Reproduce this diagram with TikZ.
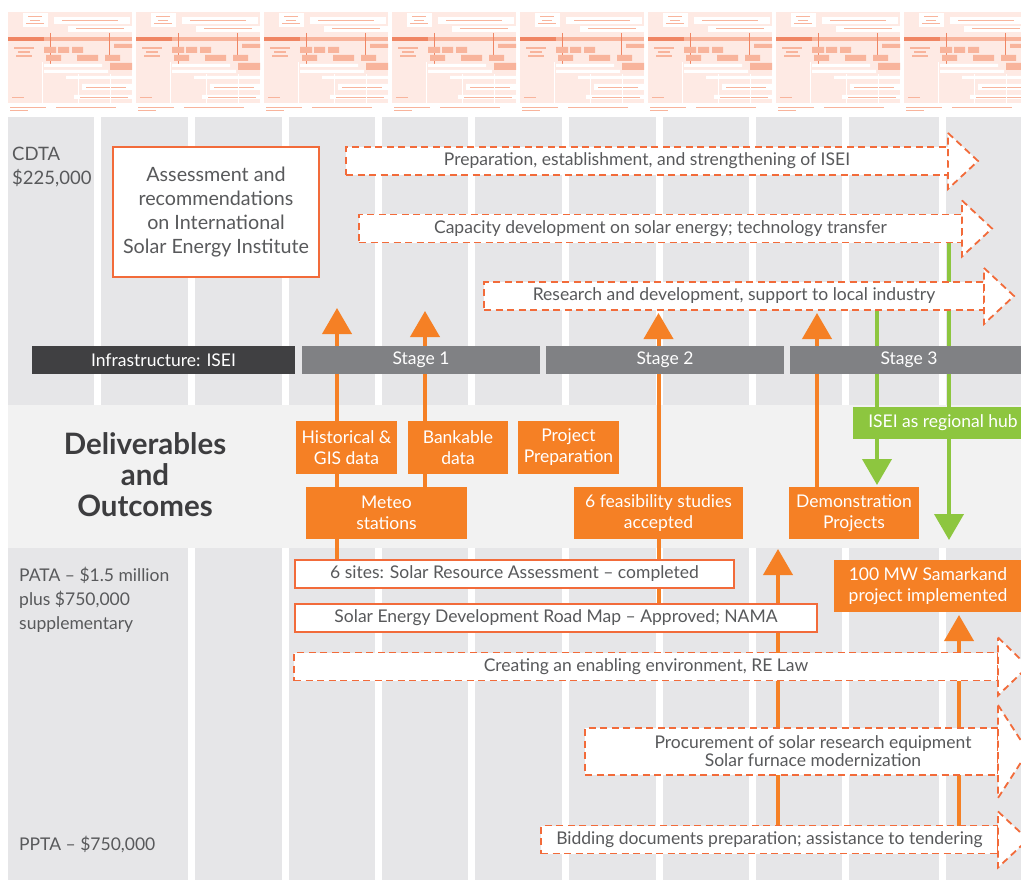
\documentclass[tikz,border=0pt]{standalone}
\usepackage{fontspec}
\setmainfont{Lato}
\usepackage{xcolor}
\usetikzlibrary{arrows.meta, positioning, calc}

\definecolor{orangefill}{HTML}{F58025}
\definecolor{orangeline}{HTML}{F26B3A}
\definecolor{textgray}{HTML}{58595B}
\definecolor{headgray}{HTML}{3D3D3F}
\definecolor{darkbar}{HTML}{404042}
\definecolor{stagegray}{HTML}{808184}
\definecolor{colgray}{HTML}{E6E6E8}
\definecolor{rowgray}{HTML}{F2F2F2}
\definecolor{hubgreen}{HTML}{8DC63F}
\definecolor{thumbpink}{HTML}{FEEAE4}
\definecolor{thumborange}{HTML}{F8B49C}
\definecolor{thumbred}{HTML}{F08664}

\pgfdeclarelayer{bg}
\pgfdeclarelayer{lines}
\pgfsetlayers{bg,lines,main}

\begin{document}
\begin{tikzpicture}[
    x=1pt, y=-1pt,
    text=textgray,
    font=\fontsize{17.5}{20}\selectfont,
    dashbox/.style={rectangle, draw=orangeline, fill=white, line width=1.8pt, dash pattern=on 7pt off 4.5pt, minimum height=28pt, inner sep=0pt, outer sep=0pt, anchor=west},
    dashhead/.style={draw=orangeline, fill=white, line width=1.8pt, dash pattern=on 7pt off 4.5pt},
    solidbox/.style={rectangle, draw=orangeline, fill=white, line width=1.5pt, minimum height=28pt, inner sep=0pt, outer sep=0pt, anchor=west},
    obox/.style={rectangle, fill=orangefill, text=white, align=center, inner sep=0pt, outer sep=0pt, font=\fontsize{17.5}{21}\selectfont},
    stagebar/.style={rectangle, fill=stagegray, text=white, minimum width=238pt, minimum height=28pt, inner sep=0pt, outer sep=0pt},
    uparrow/.style={draw=orangefill, line width=4pt, -{Triangle[width=29pt, length=26pt]}},
    hubarrow/.style={draw=hubgreen, line width=4pt, -{Triangle[width=29pt, length=26pt]}},
    sidelabel/.style={anchor=north west, align=left, inner sep=0pt, font=\fontsize{17.5}{24}\selectfont}
]
\useasboundingbox (0,0) rectangle (1021,880);

\begin{pgfonlayer}{bg}
\fill[white] (0,0) rectangle (1021,880);
% thumbnail strip
\foreach \p in {6,134,262,390,518,646,774,902} {
    \fill[thumbpink] (\p+2,12) rectangle (\p+126,103);
    \fill[white] (\p+17,13) rectangle (\p+42,27);
    \draw[thumborange, line width=1pt] (\p+22,17) -- (\p+36,17) (\p+24,21) -- (\p+34,21) (\p+20,24) -- (\p+38,24);
    \fill[white] (\p+48,17) rectangle (\p+124,24);
    \fill[white] (\p+62,26) rectangle (\p+126,32);
    \draw[thumborange, line width=1pt] (\p+56,20.5) -- (\p+112,20.5) (\p+70,29) -- (\p+118,29);
    \fill[thumborange] (\p+2,37) rectangle (\p+126,41);
    \fill[thumbred] (\p+2,37) rectangle (\p+38,41);
    \draw[thumbred, line width=0.8pt] (\p+44,33) -- (\p+44,64) (\p+103,33) -- (\p+103,58);
    \fill[thumborange] (\p+38,47) rectangle (\p+50,53) (\p+52,47) rectangle (\p+63,53) (\p+66,47) rectangle (\p+77,53);
    \fill[thumborange] (\p+40,55) rectangle (\p+55,61) (\p+71,55) rectangle (\p+92,61) (\p+99,55) rectangle (\p+114,61);
    \fill[thumborange] (\p+108,44) rectangle (\p+126,48) (\p+104,63) rectangle (\p+126,70);
    \draw[thumborange, line width=1.5pt] (\p+8,48) -- (\p+28,48) (\p+12,52) -- (\p+24,52) (\p+10,56) -- (\p+26,56);
    \fill[white] (\p+38,64) rectangle (\p+96,67) (\p+38,70) rectangle (\p+102,73);
    \fill[white] (\p+60,76) rectangle (\p+126,79) (\p+76,84) rectangle (\p+126,90) (\p+68,95) rectangle (\p+126,99);
    \draw[thumborange, line width=0.8pt] (\p+80,87) -- (\p+120,87) (\p+74,97) -- (\p+122,97) (\p+6,97) -- (\p+18,97);
    \draw[white, line width=1pt] (\p+36,62) -- (\p+36,103) (\p+72,74) -- (\p+72,103) (\p+104,74) -- (\p+104,103);
    \draw[thumborange, line width=0.8pt] (\p+4,107) -- (\p+40,107) (\p+50,107) -- (\p+110,107) (\p+4,110) -- (\p+22,110);
}
% columns
\fill[colgray] (8,117) rectangle (1021,880);
\foreach \g in {191,285,378,471,565,659,752,845,942}
    \fill[white] (\g-3.5,117) rectangle (\g+3.5,880);
\fill[white] (93.5,117) rectangle (100.5,405);
\fill[rowgray] (8,405) rectangle (1021,548);
\end{pgfonlayer}

% row labels
\node[sidelabel, font=\fontsize{18.5}{24}\selectfont] (cdta) at (12,147) {CDTA\\\$225,000};
\node[sidelabel] (pata) at (19,567) {PATA – \$1.5 million\\plus \$750,000\\supplementary};
\node[sidelabel, anchor=base west] (ppta) at (19,850) {PPTA – \$750,000};
\node[align=center, text=headgray, font=\fontsize{29.5}{31}\selectfont\bfseries] (deliv) at (145,475) {Deliverables\\and\\Outcomes};

\node[rectangle, draw=orangeline, fill=white, line width=1.5pt, minimum width=206pt, minimum height=130pt, align=center, font=\fontsize{19.7}{24}\selectfont] (assess) at (216,212) {Assessment and\\recommendations\\on International\\Solar Energy Institute};

% dashed arrows
\node[dashbox, minimum width=602pt] (prep) at (346,161) {Preparation, establishment, and strengthening of ISEI};
\node[dashbox, minimum width=603pt] (capacity) at (359,228.5) {Capacity development on solar energy; technology transfer};
\node[dashbox, minimum width=500pt] (research) at (484,296) {Research and development, support to local industry};
\node[dashbox, minimum width=704pt] (creating) at (294,666.5) {Creating an enabling environment, RE Law};
\node[dashbox, minimum width=413pt, minimum height=47pt] (procure) at (585,751.5) {};
\node[dashbox, minimum width=457pt] (bidding) at (541,839.5) {Bidding documents preparation; assistance to tendering};
\foreach \b/\h in {prep/14, capacity/14, research/14, creating/15, procure/23, bidding/14}
    \draw[dashhead] ([yshift=\h pt]\b.north east) -- ([xshift=30pt]\b.east) -- ([yshift=-\h pt]\b.south east) -- cycle;
\node[align=center, font=\fontsize{17.5}{18}\selectfont] (procuretxt) at (813,751.5) {Procurement of solar research equipment\\Solar furnace modernization};

% stages
\node[stagebar, fill=darkbar, minimum width=263pt, anchor=west] (infra) at (32,360) {Infrastructure: ISEI};
\node[stagebar, right=7pt of infra] (stage1) {Stage 1};
\node[stagebar, right=6pt of stage1] (stage2) {Stage 2};
\node[stagebar, right=6pt of stage2] (stage3) {Stage 3};

% deliverables
\node[obox, minimum width=101pt, minimum height=53pt, anchor=north west] (hist) at (296,421) {Historical \&\\GIS data};
\node[obox, minimum width=100pt, minimum height=53pt, right=11pt of hist] (bank) {Bankable\\data};
\node[obox, minimum width=101pt, minimum height=53pt, right=10pt of bank] (projprep) {Project\\Preparation};
\node[obox, minimum width=161pt, minimum height=52pt, anchor=north west] (meteo) at (306,487) {Meteo\\stations};
\node[obox, minimum width=169pt, minimum height=52pt, anchor=north west] (feas) at (574,487) {6 feasibility studies\\accepted};
\node[obox, minimum width=130pt, minimum height=52pt, anchor=north west] (demo) at (789,487) {Demonstration\\Projects};
\node[obox, minimum width=188pt, minimum height=52pt, anchor=north west] (samarkand) at (834,560) {100 MW Samarkand\\project implemented};
\node[obox, fill=hubgreen, minimum width=180pt, minimum height=32pt, anchor=north west] (hub) at (853,407) {ISEI as regional hub};

\node[solidbox, minimum width=439pt] (sites) at (295,574) {6 sites: Solar Resource Assessment – completed};
\node[solidbox, minimum width=522pt] (roadmap) at (295,618) {Solar Energy Development Road Map – Approved; NAMA};

% connectors
\coordinate (tipA) at (337,308);
\coordinate (tipB) at (425,311);
\coordinate (tipD) at (817,313);
\coordinate (tipE) at (778,549);
\coordinate (tipF) at (959,615);
\coordinate (tipG1) at (877,485);
\coordinate (tipG2) at (949,540);
\begin{pgfonlayer}{lines}
\draw[uparrow] (sites.north -| tipA) -- (tipA);
\draw[uparrow] (meteo.north -| tipB) -- (tipB);
\draw[uparrow, shorten >=3pt] (roadmap.north -| feas.north) -- (research.south -| feas.north);
\draw[uparrow] (demo.north -| tipD) -- (tipD);
\draw[uparrow] (bidding.north -| tipE) -- (tipE);
\draw[uparrow] (bidding.north -| tipF) -- (tipF);
\draw[hubarrow] (research.south -| tipG1) -- (tipG1);
\draw[hubarrow] (capacity.south -| tipG2) -- (tipG2);
\end{pgfonlayer}

\end{tikzpicture}
\end{document}
